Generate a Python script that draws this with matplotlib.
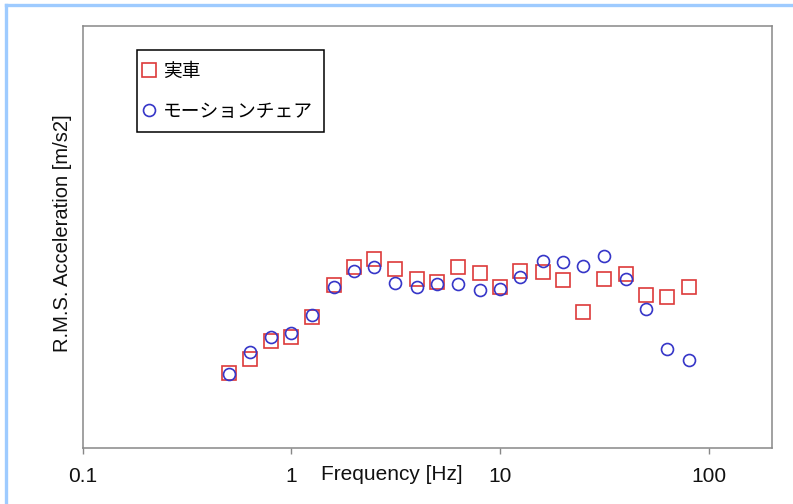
import matplotlib
matplotlib.use("Agg")
import matplotlib.pyplot as plt
from matplotlib.lines import Line2D

plt.rcParams['font.family'] = ['Liberation Sans', 'Noto Sans CJK JP', 'DejaVu Sans']

# 1/3-octave band centre frequencies [Hz]
freqs = [0.5, 0.63, 0.8, 1, 1.25, 1.6, 2, 2.5, 3.15, 4, 5, 6.3, 8, 10,
         12.5, 16, 20, 25, 31.5, 40, 50, 63, 80]
# RMS acceleration (relative units; axis has no scale)
real_car = [0.178, 0.211, 0.254, 0.264, 0.310, 0.386, 0.430, 0.449, 0.424,
            0.402, 0.393, 0.429, 0.416, 0.381, 0.421, 0.418, 0.399, 0.323,
            0.401, 0.413, 0.363, 0.358, 0.383]
motion_chair = [0.176, 0.228, 0.263, 0.272, 0.316, 0.381, 0.421, 0.429, 0.391,
                0.383, 0.388, 0.389, 0.375, 0.378, 0.405, 0.444, 0.441, 0.432,
                0.455, 0.400, 0.329, 0.234, 0.209]
labels = ['実車', 'モーションチェア']
xticks = [0.1, 1, 10, 100]
xticklabels = ['0.1', '1', '10', '100']

red = '#dd3a3a'
blue = '#3636c8'

fig = plt.figure(figsize=(7.93, 5.04), dpi=100)
ax = fig.add_axes([0.1043, 0.1105, 0.8688, 0.8379])

ax.plot(freqs, real_car, linestyle='none', marker='s', mfc='none', mec=red,
        ms=9.6, mew=1.2, label=labels[0])
ax.plot(freqs, motion_chair, linestyle='none', marker='o', mfc='none', mec=blue,
        ms=8.6, mew=1.2, label=labels[1])

ax.set_xscale('log')
ax.set_xlim(0.1, 200)
ax.set_ylim(0, 1)
ax.set_xticks(xticks)
ax.set_xticklabels(xticklabels)
ax.xaxis.set_minor_locator(matplotlib.ticker.NullLocator())
ax.set_yticks([])
ax.tick_params(axis='x', length=4.3, width=1.0, color='#888888', pad=9,
               labelsize=15, labelcolor='#111111')
for s in ax.spines.values():
    s.set_color('#888888')
    s.set_linewidth(1.1)

ax.text(0.449, -0.074, 'Frequency [Hz]', transform=ax.transAxes,
        ha='center', va='baseline', fontsize=15, color='#111111')
ax.text(-0.029, 0.5086, 'R.M.S. Acceleration [m/s2]', transform=ax.transAxes,
        ha='center', va='center', rotation=90, fontsize=14.5, color='#111111')

leg = ax.legend(loc='upper left', bbox_to_anchor=(0.0784, 0.9432),
                borderaxespad=0, fancybox=False, edgecolor='black',
                framealpha=1, borderpad=0.56, handlelength=0.19,
                handletextpad=0.67, labelspacing=1.02,
                prop={'family': ['Noto Sans CJK JP', 'DejaVu Sans'], 'size': 13.5})
leg.get_frame().set_linewidth(1.1)

# light blue border at top and left of the picture
fig.add_artist(Line2D([6 / 793, 1], [1 - 5 / 504, 1 - 5 / 504],
                      transform=fig.transFigure, color='#9ecbff', lw=2.4))
fig.add_artist(Line2D([6 / 793, 6 / 793], [0, 1 - 5 / 504],
                      transform=fig.transFigure, color='#9ecbff', lw=2.4))

fig.savefig('out.png', dpi=100)
